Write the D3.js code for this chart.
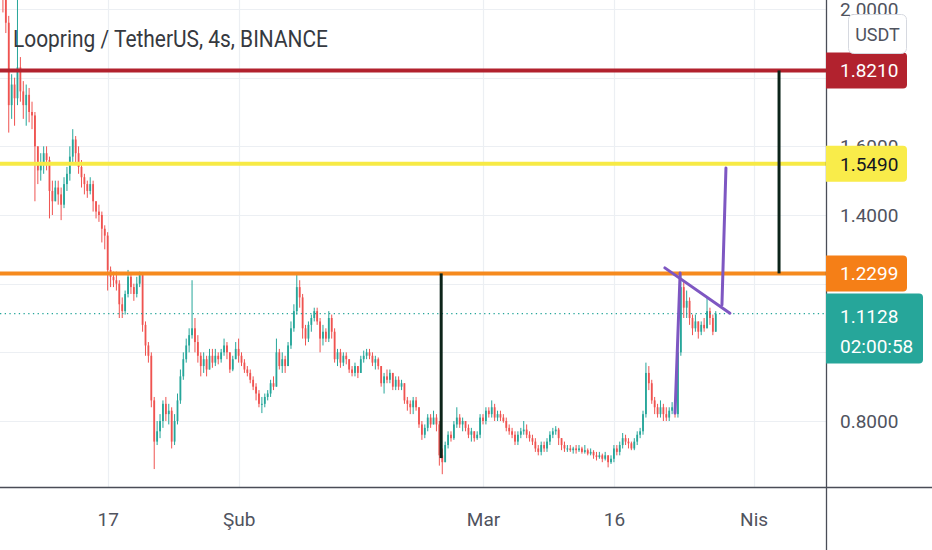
<!DOCTYPE html>
<html>
<head>
<meta charset="utf-8">
<script src="https://cdn.jsdelivr.net/npm/d3@7"></script>
<style>
  body { margin: 0; background: #fff; }
  svg { display: block; font-family: Roboto, "Noto Sans", sans-serif; }
</style>
</head>
<body>
<div id="chart"></div>
<script>
// LRC/USDT 8h candles (open = previous close)
var startTime = Date.UTC(2022, 0, 5);
var stepMs = 8 * 3600 * 1000;
var firstOpen = 2.07;

var closes = [
  2.04,1.96,1.72,1.78,1.74,1.83,1.76,1.72,1.75,1.70,
  1.69,1.60,1.53,1.55,1.58,1.56,1.47,1.44,1.48,1.46,
  1.43,1.49,1.52,1.57,1.62,1.58,1.54,1.51,1.49,1.47,
  1.49,1.44,1.41,1.40,1.36,1.34,1.24,1.22,1.21,1.20,
  1.14,1.12,1.17,1.22,1.19,1.17,1.20,1.225,1.08,1.02,
  0.99,0.86,0.74,0.77,0.80,0.85,0.82,0.83,0.74,0.80,
  0.86,0.93,0.98,1.02,1.05,1.07,1.03,0.99,0.96,0.98,
  0.95,0.99,0.97,0.99,0.98,1.00,1.02,1.00,0.95,0.98,
  1.01,0.99,0.97,0.95,0.94,0.92,0.90,0.88,0.85,0.85,
  0.87,0.88,0.91,0.90,1.00,0.96,0.98,0.96,1.02,1.07,
  1.12,1.19,1.16,1.07,1.04,1.08,1.10,1.12,1.09,1.04,
  1.06,1.04,1.10,1.06,0.98,1.00,0.97,0.99,0.98,0.95,
  0.94,0.96,0.94,0.98,0.99,1.00,0.99,0.97,0.98,0.96,
  0.91,0.93,0.92,0.94,0.90,0.92,0.90,0.91,0.86,0.85,
  0.84,0.86,0.84,0.79,0.76,0.78,0.81,0.79,0.81,0.79,
  0.70,0.68,0.73,0.76,0.75,0.79,0.81,0.79,0.80,0.78,
  0.76,0.77,0.75,0.76,0.81,0.80,0.83,0.82,0.84,0.81,
  0.82,0.81,0.80,0.78,0.77,0.76,0.74,0.76,0.77,0.775,
  0.76,0.75,0.74,0.72,0.71,0.73,0.72,0.74,0.76,0.77,
  0.775,0.75,0.73,0.72,0.72,0.715,0.72,0.715,0.72,0.71,
  0.715,0.705,0.71,0.70,0.695,0.70,0.69,0.70,0.68,0.69,
  0.72,0.71,0.73,0.75,0.74,0.735,0.72,0.74,0.76,0.77,
  0.82,0.94,0.91,0.86,0.84,0.82,0.84,0.82,0.81,0.83,
  0.84,0.82,1.00,1.19,1.13,1.15,1.10,1.07,1.09,1.06,
  1.08,1.07,1.12,1.10,1.06,1.1128
];

var highs = [
  2.14,2.06,1.98,1.81,1.80,2.07,1.86,1.79,1.78,1.77,
  1.73,1.70,1.58,1.58,1.60,1.60,1.57,1.50,1.50,1.50,
  1.48,1.51,1.54,1.60,1.65,1.63,1.60,1.56,1.52,1.50,
  1.51,1.50,1.44,1.43,1.41,1.37,1.35,1.25,1.235,1.235,
  1.21,1.16,1.18,1.24,1.23,1.20,1.22,1.235,1.23,1.09,
  1.03,1.00,0.87,0.80,0.82,0.86,0.87,0.85,0.84,0.82,
  0.88,0.95,1.00,1.04,1.07,1.21,1.10,1.05,1.00,1.00,
  0.99,1.01,1.01,1.01,1.00,1.01,1.04,1.03,1.00,0.99,
  1.03,1.04,1.00,0.98,0.96,0.95,0.93,0.91,0.89,0.87,
  0.88,0.89,0.92,0.93,1.04,1.01,1.00,0.99,1.03,1.09,
  1.14,1.23,1.21,1.17,1.08,1.09,1.11,1.13,1.13,1.10,
  1.08,1.07,1.12,1.11,1.07,1.01,1.01,1.00,1.00,0.98,
  0.96,0.97,0.96,0.99,1.005,1.01,1.01,1.00,0.99,0.985,
  0.96,0.94,0.95,0.95,0.94,0.93,0.93,0.92,0.91,0.87,
  0.86,0.87,0.87,0.84,0.80,0.79,0.82,0.82,0.83,0.82,
  0.80,0.72,0.74,0.77,0.77,0.80,0.84,0.82,0.81,0.80,
  0.79,0.78,0.77,0.77,0.82,0.82,0.84,0.84,0.86,0.85,
  0.83,0.83,0.82,0.81,0.79,0.78,0.77,0.77,0.78,0.80,
  0.79,0.77,0.76,0.75,0.73,0.74,0.74,0.75,0.77,0.78,
  0.785,0.78,0.75,0.74,0.73,0.73,0.725,0.73,0.73,0.725,
  0.73,0.72,0.72,0.715,0.71,0.71,0.705,0.71,0.70,0.70,
  0.73,0.73,0.74,0.765,0.76,0.75,0.74,0.75,0.77,0.78,
  0.83,0.97,0.96,0.92,0.87,0.85,0.86,0.85,0.84,0.84,
  0.855,0.85,1.02,1.23,1.21,1.18,1.16,1.11,1.11,1.09,
  1.09,1.10,1.16,1.13,1.11,1.12
];

var lows = [
  1.99,1.93,1.64,1.68,1.66,1.72,1.73,1.68,1.66,1.67,
  1.65,1.44,1.49,1.50,1.52,1.53,1.39,1.40,1.44,1.43,
  1.385,1.42,1.47,1.50,1.55,1.55,1.52,1.48,1.46,1.45,
  1.46,1.41,1.39,1.38,1.32,1.30,1.18,1.19,1.19,1.18,
  1.10,1.10,1.11,1.16,1.17,1.15,1.16,1.19,1.06,0.99,
  0.97,0.84,0.66,0.73,0.75,0.78,0.80,0.79,0.72,0.73,
  0.79,0.85,0.92,0.97,1.00,1.04,1.00,0.97,0.93,0.94,
  0.93,0.95,0.955,0.96,0.965,0.97,0.99,0.98,0.94,0.945,
  0.98,0.97,0.96,0.94,0.93,0.91,0.89,0.86,0.84,0.823,
  0.84,0.86,0.87,0.89,0.90,0.95,0.94,0.94,0.96,1.01,
  1.06,1.11,1.13,1.04,1.02,1.03,1.06,1.09,1.08,1.00,
  1.02,1.03,1.03,1.04,0.97,0.96,0.955,0.96,0.965,0.94,
  0.93,0.93,0.925,0.94,0.97,0.98,0.98,0.96,0.95,0.95,
  0.90,0.88,0.91,0.91,0.89,0.89,0.89,0.89,0.85,0.83,
  0.82,0.82,0.83,0.78,0.745,0.75,0.77,0.78,0.79,0.77,
  0.67,0.645,0.68,0.72,0.74,0.745,0.78,0.78,0.77,0.77,
  0.75,0.74,0.74,0.745,0.75,0.79,0.79,0.81,0.81,0.80,
  0.80,0.80,0.795,0.77,0.76,0.75,0.73,0.73,0.75,0.76,
  0.75,0.74,0.73,0.71,0.70,0.70,0.71,0.71,0.73,0.75,
  0.76,0.73,0.715,0.71,0.71,0.71,0.705,0.705,0.71,0.705,
  0.705,0.70,0.70,0.69,0.685,0.69,0.68,0.685,0.665,0.675,
  0.68,0.70,0.70,0.72,0.73,0.72,0.715,0.715,0.73,0.75,
  0.76,0.81,0.89,0.85,0.82,0.81,0.81,0.80,0.80,0.80,
  0.82,0.81,0.81,0.99,1.10,1.10,1.08,1.05,1.06,1.04,
  1.05,1.06,1.07,1.08,1.05,1.06
];

// grid every 0.2; only the labels not hidden behind the price boxes are drawn
var priceTicks = [0.8, 1.0, 1.2, 1.4, 1.6, 1.8, 2.0];
var labelTicks = [0.8, 1.4, 1.6, 2.0];
var labelTickText = ["0.8000", "1.4000", "1.6000", "2.0000"];

var timeTicks = [Date.UTC(2022, 0, 17), Date.UTC(2022, 1, 1), Date.UTC(2022, 2, 1), Date.UTC(2022, 2, 16), Date.UTC(2022, 3, 1)];
var timeTickLabels = ["17", "Şub", "Mar", "16", "Nis"];

var levelPrices = [1.8210, 1.5490, 1.2299];
var levelLabels = ["1.8210", "1.5490", "1.2299"];
var lastPrice = 1.1128;
var lastLabel = "1.1128";
var countdown = "02:00:58";

// drawn lines as [time, price] pairs
var measureLines = [
  [[Date.UTC(2022, 1, 24, 5), 1.2299], [Date.UTC(2022, 1, 24, 5), 0.692]],
  [[Date.UTC(2022, 3, 3, 22), 1.8210], [Date.UTC(2022, 3, 3, 22), 1.2299]]
];
var trendLines = [
  [[Date.UTC(2022, 2, 21, 20), 1.246], [Date.UTC(2022, 2, 29, 7), 1.114]],
  [[Date.UTC(2022, 2, 23, 0), 0.823], [Date.UTC(2022, 2, 23, 14), 1.231]],
  [[Date.UTC(2022, 2, 28, 9), 1.138], [Date.UTC(2022, 2, 28, 20), 1.537]]
];

//Create Figure
var svgWidth = 932;
var svgHeight = 550;
var plotWidth = 826;
var plotHeight = 487;

var upColor = "#26a69a";
var downColor = "#ef5350";
var levelColors = ["#b2222e", "#f7ea45", "#f68a1e"];
var boxColors = ["#b2222e", "#f9ec4a", "#f57f17"];
var boxText = ["#fff", "#131722", "#fff"];

var svg = d3.select("#chart")
  .append("svg")
  .attr("width", svgWidth)
  .attr("height", svgHeight);

var x = d3.scaleUtc()
  .domain([Date.UTC(2022, 1, 1), Date.UTC(2022, 2, 1)])
  .range([238.6, 483]);

var y = d3.scaleLinear()
  .domain([0.8, 1.4])
  .range([421, 215]);

svg.append("defs").append("clipPath").attr("id", "plotClip")
  .append("rect").attr("width", plotWidth).attr("height", plotHeight);

var plot = svg.append("g").attr("clip-path", "url(#plotClip)");

// grid
plot.selectAll(".hgrid").data(priceTicks).enter().append("line")
  .attr("x1", 0).attr("x2", plotWidth)
  .attr("y1", d => Math.round(y(d)) + 0.5).attr("y2", d => Math.round(y(d)) + 0.5)
  .attr("stroke", "#eceff3").attr("stroke-width", 1.2);

plot.selectAll(".vgrid").data(timeTicks).enter().append("line")
  .attr("y1", 0).attr("y2", plotHeight)
  .attr("x1", d => Math.round(x(d)) + 0.5).attr("x2", d => Math.round(x(d)) + 0.5)
  .attr("stroke", "#eceff3").attr("stroke-width", 1.2);

// candles
var candles = closes.map(function(c, i) {
  var o = i === 0 ? firstOpen : closes[i - 1];
  return {
    t: startTime + i * stepMs,
    o: o,
    c: c,
    h: Math.max(highs[i], o, c),
    l: Math.min(lows[i], o, c)
  };
});

var candleG = plot.selectAll(".candle").data(candles).enter().append("g");

candleG.append("line")
  .attr("x1", d => x(d.t)).attr("x2", d => x(d.t))
  .attr("y1", d => y(d.h)).attr("y2", d => y(d.l))
  .attr("stroke", d => d.c >= d.o ? upColor : downColor)
  .attr("stroke-width", 1);

candleG.append("rect")
  .attr("x", d => x(d.t) - 0.9)
  .attr("width", 1.8)
  .attr("y", d => y(Math.max(d.o, d.c)))
  .attr("height", d => Math.max(1, Math.abs(y(d.o) - y(d.c))))
  .attr("fill", d => d.c >= d.o ? upColor : downColor);

// horizontal levels
plot.selectAll(".level").data(levelPrices).enter().append("line")
  .attr("x1", 0).attr("x2", plotWidth)
  .attr("y1", d => y(d)).attr("y2", d => y(d))
  .attr("stroke", (d, i) => levelColors[i])
  .attr("stroke-width", 4);

// last price dotted line
plot.append("line")
  .attr("x1", 0).attr("x2", plotWidth)
  .attr("y1", y(lastPrice)).attr("y2", y(lastPrice))
  .attr("stroke", upColor).attr("stroke-width", 1.3)
  .attr("stroke-dasharray", "1.3,3.4");

// measured move lines
plot.selectAll(".measure").data(measureLines).enter().append("line")
  .attr("x1", d => x(d[0][0])).attr("y1", d => y(d[0][1]))
  .attr("x2", d => x(d[1][0])).attr("y2", d => y(d[1][1]))
  .attr("stroke", "#0c2419").attr("stroke-width", 3);

// trend lines
plot.selectAll(".trend").data(trendLines).enter().append("line")
  .attr("x1", d => x(d[0][0])).attr("y1", d => y(d[0][1]))
  .attr("x2", d => x(d[1][0])).attr("y2", d => y(d[1][1]))
  .attr("stroke", "#7e57c2").attr("stroke-width", 3)
  .attr("stroke-linecap", "round");

// title
svg.append("text")
  .attr("x", 13).attr("y", 47)
  .attr("font-size", 23)
  .attr("fill", "#363940")
  .attr("textLength", 315)
  .attr("lengthAdjust", "spacingAndGlyphs")
  .text("Loopring / TetherUS, 4s, BINANCE");

// price axis
var rightAxis = d3.axisRight(y)
  .tickValues(labelTicks)
  .tickFormat((d, i) => labelTickText[i])
  .tickSize(0)
  .tickPadding(14);

var yAxis = svg.append("g")
  .attr("transform", `translate(${plotWidth},0)`)
  .call(rightAxis);
yAxis.select(".domain").remove();
yAxis.selectAll("text")
  .attr("font-size", 19)
  .attr("font-family", "Roboto, sans-serif")
  .attr("fill", "#50535e");

// time axis
var bottomAxis = d3.axisBottom(x)
  .tickValues(timeTicks)
  .tickFormat((d, i) => timeTickLabels[i])
  .tickSize(0)
  .tickPadding(26);

var xAxis = svg.append("g")
  .attr("transform", `translate(0,${plotHeight})`)
  .call(bottomAxis);
xAxis.select(".domain").remove();
xAxis.selectAll("text")
  .attr("font-size", 19)
  .attr("font-family", "Roboto, sans-serif")
  .attr("fill", "#50535e");

// separators
svg.append("line")
  .attr("x1", plotWidth + 0.5).attr("x2", plotWidth + 0.5)
  .attr("y1", 0).attr("y2", svgHeight)
  .attr("stroke", "#4a4d57").attr("stroke-width", 1.3);
svg.append("line")
  .attr("x1", 0).attr("x2", svgWidth)
  .attr("y1", plotHeight + 0.5).attr("y2", plotHeight + 0.5)
  .attr("stroke", "#4a4d57").attr("stroke-width", 1.3);

// label boxes on price axis
function boxPath(x0, y0, x1, y1, r) {
  return `M${x0},${y0}H${x1 - r}Q${x1},${y0} ${x1},${y0 + r}V${y1 - r}Q${x1},${y1} ${x1 - r},${y1}H${x0}Z`;
}

levelPrices.forEach(function(p, i) {
  var cy = y(p);
  svg.append("path")
    .attr("d", boxPath(plotWidth, cy - 18, 907, cy + 18, 4))
    .attr("fill", boxColors[i]);
  svg.append("text")
    .attr("x", 840).attr("y", cy + 7)
    .attr("font-size", 19)
    .attr("fill", boxText[i])
    .text(levelLabels[i]);
});

var ly = y(lastPrice);
svg.append("path")
  .attr("d", boxPath(plotWidth, ly - 20, 923, ly + 50, 4))
  .attr("fill", upColor);
svg.append("text")
  .attr("x", 840).attr("y", ly + 9)
  .attr("font-size", 19).attr("fill", "#fff")
  .text(lastLabel);
svg.append("text")
  .attr("x", 840).attr("y", ly + 39)
  .attr("font-size", 19).attr("fill", "#fff")
  .text(countdown);

// currency badge
svg.append("rect")
  .attr("x", 848.5).attr("y", 14.5)
  .attr("width", 58).attr("height", 39)
  .attr("rx", 5)
  .attr("fill", "#fff")
  .attr("stroke", "#d6d9e0");
svg.append("text")
  .attr("x", 877.5).attr("y", 41)
  .attr("text-anchor", "middle")
  .attr("font-size", 18)
  .attr("fill", "#50535e")
  .text("USDT");
</script>
</body>
</html>
